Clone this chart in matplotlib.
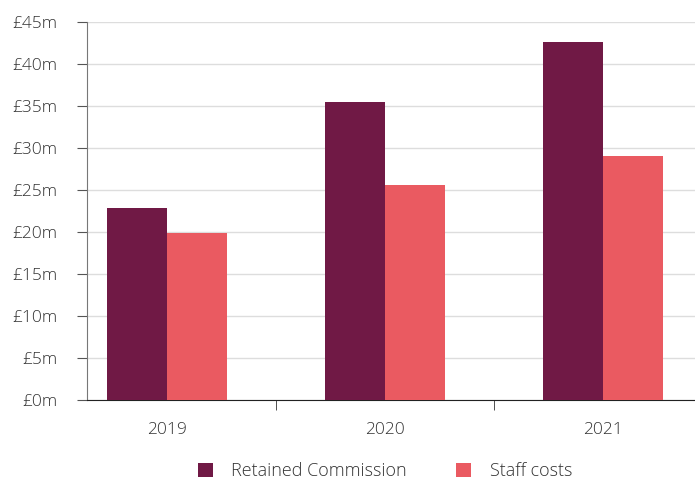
import numpy as np
import matplotlib.pyplot as plt

years = ['2019', '2020', '2021']
retained = [22.9, 35.5, 42.6]
staff = [19.9, 25.6, 29.1]
yticks = [0, 5, 10, 15, 20, 25, 30, 35, 40, 45]

plt.rcParams['font.family'] = ['Open Sans', 'DejaVu Sans']
plt.rcParams['font.weight'] = 'light'

fig = plt.figure(figsize=(6.95, 4.8), dpi=100)
ax = fig.add_axes([0.125, 0.1667, 0.875, 0.7875])

x = np.arange(len(years))
w = 0.275
ax.bar(x - w/2, retained, w, color='#701945', label='Retained Commission', zorder=3)
ax.bar(x + w/2, staff, w, color='#EA5A61', label='Staff costs', zorder=3)

ax.set_xlim(-0.367, 2.42)
ax.set_ylim(0, 45)
ax.set_yticks(yticks)
ax.set_yticklabels(['£%dm' % v for v in yticks])
ax.yaxis.grid(True, color='#dddddd', linewidth=1, zorder=0)

ax.set_xticks(x)
ax.set_xticklabels(years)
ax.set_xticks([0.5, 1.5], minor=True)
ax.tick_params(axis='x', which='major', length=0, pad=16, labelsize=12.5, labelcolor='#333333')
ax.tick_params(axis='x', which='minor', length=7.2, color='#333333', direction='out')
ax.tick_params(axis='y', length=7.2, color='#555555', labelsize=12.5, labelcolor='#333333', pad=14)

for s in ['top', 'right']:
    ax.spines[s].set_visible(False)
ax.spines['left'].set_color('#777777')
ax.spines['bottom'].set_color('#222222')

ax.legend(loc='upper center', bbox_to_anchor=(0.49, -0.135), ncol=2, frameon=False,
          fontsize=13, handlelength=0.83, handleheight=0.83, columnspacing=2.7,
          handletextpad=1.05, labelcolor='#333333', borderaxespad=0.2)

plt.savefig('out.png', dpi=100)
